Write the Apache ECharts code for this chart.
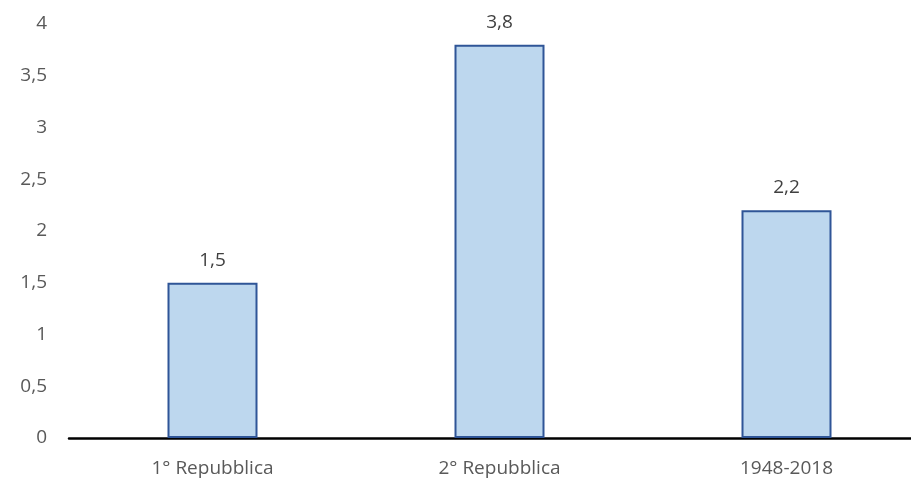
<!DOCTYPE html>
<html><head><meta charset="utf-8">
<script src="https://cdn.jsdelivr.net/npm/echarts@6/dist/echarts.min.js"></script>
<style>html,body{margin:0;padding:0;background:#fff;overflow:hidden}#c{width:930px;height:481px}</style>
</head><body><div id="c"></div>
<script>
const categories = ['1° Repubblica', '2° Repubblica', '1948-2018'];
const values = [1.5, 3.8, 2.2];
const yTicks = { min: 0, max: 4, interval: 0.5 };
const fmt = v => String(v).replace('.', ',');
const chart = echarts.init(document.getElementById('c'), null, { renderer: 'canvas' });
chart.setOption({
  animation: false,
  grid: { left: 69, top: 24, right: 0, bottom: 43, containLabel: false },
  xAxis: {
    type: 'category', data: categories,
    axisLine: { lineStyle: { color: '#000', width: 2.5 } },
    axisTick: { show: false },
    axisLabel: { color: '#595959', fontFamily: 'Open Sans', fontSize: 19, margin: 21 }
  },
  yAxis: {
    type: 'value', min: yTicks.min, max: yTicks.max, interval: yTicks.interval,
    splitLine: { show: false }, axisLine: { show: false }, axisTick: { show: false },
    axisLabel: { color: '#595959', fontFamily: 'Open Sans', fontSize: 19, margin: 22, formatter: fmt }
  },
  series: [{
    type: 'bar', data: values, barWidth: 90,
    itemStyle: { color: '#BDD7EE', borderColor: '#2F5597', borderWidth: 2 },
    label: { show: true, position: 'top', distance: 13, color: '#404040', fontFamily: 'Open Sans', fontSize: 19, formatter: p => fmt(p.value) }
  }]
});
</script></body></html>
